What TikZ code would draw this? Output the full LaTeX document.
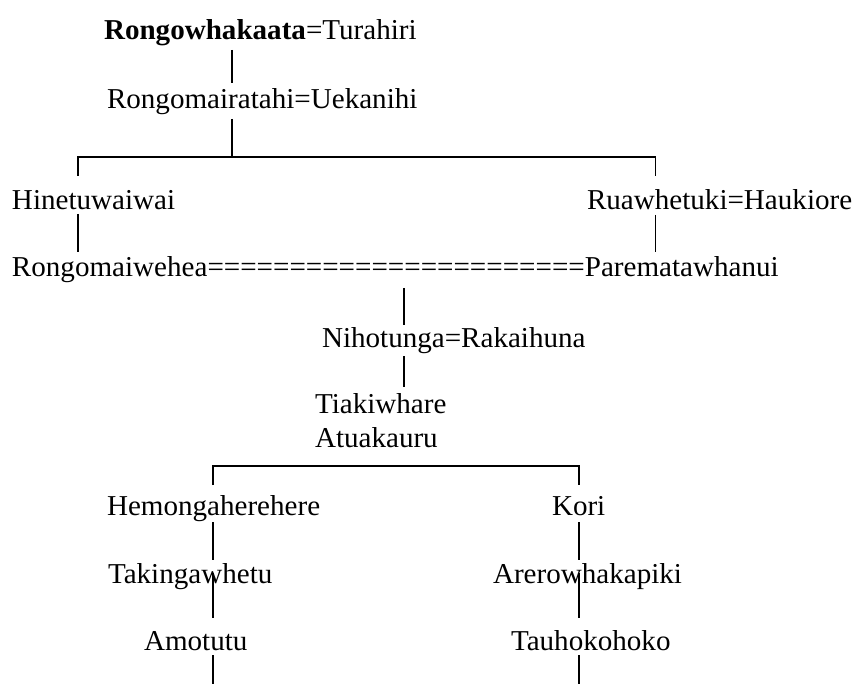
\documentclass[tikz,border=0pt]{standalone}
\usepackage{fontspec}
\setmainfont{Liberation Serif}
\usetikzlibrary{calc}
\begin{document}
\begin{tikzpicture}[x=1pt,y=-1pt,
  lbl/.style={anchor=base west, inner sep=0pt, outer sep=0pt, xscale=1.01,
    font=\fontsize{28.8}{34}\selectfont},
  link/.style={line width=1.5pt, line cap=butt}]
\useasboundingbox (0,0) rectangle (856,684);
\fill[white] (0,0) rectangle (856,684);
% people
\node[lbl] (rw) at (104,40) {\textbf{Rongowhakaata}=Turahiri};
\node[lbl] (rm) at (107,109) {Rongomairatahi=Uekanihi};
\node[lbl] (hi) at (12,210) {Hinetuwaiwai};
\node[lbl] (ru) at (587,210) {Ruawhetuki=Haukiore};
\node[lbl] (rp) at (12,277) {Rongomaiwehea=======================Parematawhanui};
\node[lbl] (ni) at (322,347) {Nihotunga=Rakaihuna};
\node[lbl] (ti) at (315,413) {Tiakiwhare};
\node[lbl] (at) at (315,447) {Atuakauru};
\node[lbl] (he) at (107,515) {Hemongaherehere};
\node[lbl] (ko) at (552,515) {Kori};
\node[lbl] (ta) at (108,583) {Takingawhetu};
\node[lbl] (ar) at (493,583) {Arerowhakapiki};
\node[lbl] (am) at (144,650) {Amotutu};
\node[lbl] (th) at (511,650) {Tauhokohoko};
% column coordinates
\coordinate (c1) at (232,0);
\coordinate (cl) at (78,0);
\coordinate (cr) at (655.5,0);
\coordinate (c2) at (404,0);
\coordinate (c3) at (213,0);
\coordinate (c4) at (579,0);
\coordinate (bar1) at (0,157);
\coordinate (bar2) at (0,466);
\coordinate (bot) at (0,684);
% connectors
\draw[link] ($(rw.base -| c1)+(0,10)$) -- ($(rm.base -| c1)+(0,-26)$);
\draw[link] ($(rm.base -| c1)+(0,10)$) -- (bar1 -| c1);
\draw[link] ($(hi.base -| cl)+(0,-34)$) -- (bar1 -| cl) -- (bar1 -| cr) -- ($(ru.base -| cr)+(0,-34)$);
\draw[link] ($(hi.base -| cl)+(0,4)$) -- ($(rp.base -| cl)+(0,-25)$);
\draw[link] ($(ru.base -| cr)+(0,5)$) -- ($(rp.base -| cr)+(0,-25)$);
\draw[link] ($(rp.base -| c2)+(0,11)$) -- ($(ni.base -| c2)+(0,-22)$);
\draw[link] ($(ni.base -| c2)+(0,9)$) -- ($(ti.base -| c2)+(0,-26)$);
\draw[link] ($(he.base -| c3)+(0,-30)$) -- (bar2 -| c3) -- (bar2 -| c4) -- ($(ko.base -| c4)+(0,-30)$);
\draw[link] ($(he.base -| c3)+(0,7)$) -- ($(ta.base -| c3)+(0,-23)$);
\draw[link] ($(ko.base -| c4)+(0,7)$) -- ($(ar.base -| c4)+(0,-23)$);
\draw[link] ($(ta.base -| c3)+(0,-10)$) -- ($(am.base -| c3)+(0,-32)$);
\draw[link] ($(ar.base -| c4)+(0,-10)$) -- ($(th.base -| c4)+(0,-32)$);
\draw[link] ($(am.base -| c3)+(0,5)$) -- (bot -| c3);
\draw[link] ($(th.base -| c4)+(0,5)$) -- (bot -| c4);
\end{tikzpicture}
\end{document}
